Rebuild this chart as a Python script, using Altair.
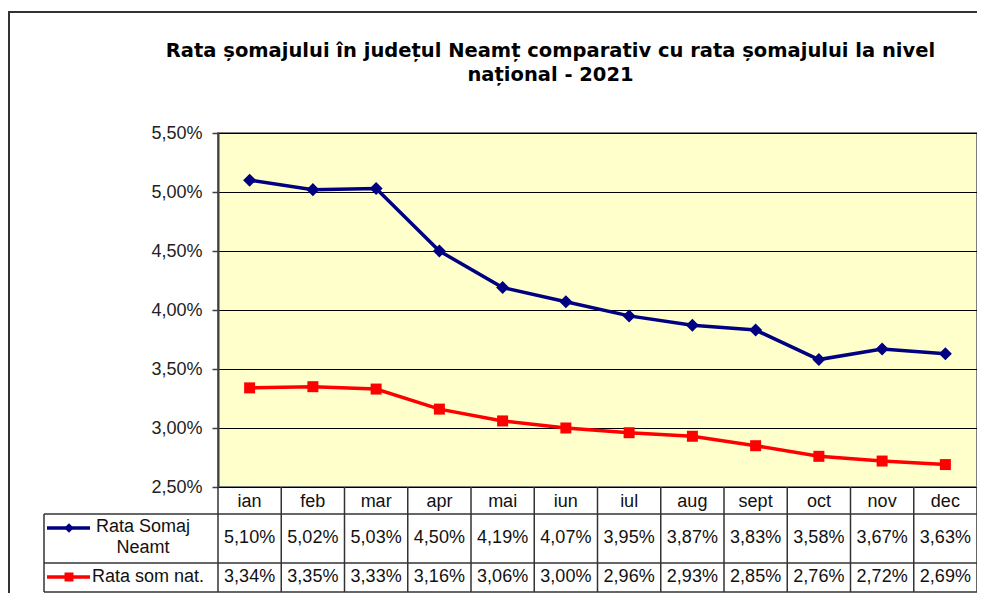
import altair as alt
import pandas as pd

months = ["ian", "feb", "mar", "apr", "mai", "iun", "iul", "aug", "sept", "oct", "nov", "dec"]
neamt = [5.10, 5.02, 5.03, 4.50, 4.19, 4.07, 3.95, 3.87, 3.83, 3.58, 3.67, 3.63]
national = [3.34, 3.35, 3.33, 3.16, 3.06, 3.00, 2.96, 2.93, 2.85, 2.76, 2.72, 2.69]
series_names = ["Rata Somaj Neamt", "Rata som nat."]
legend_labels = ["Rata Somaj\nNeamt", "Rata som nat."]
series_colors = ["#000080", "#FF0000"]
y_ticks = [2.5, 3.0, 3.5, 4.0, 4.5, 5.0, 5.5]
title_lines = ["Rata șomajului în județul Neamț comparativ cu rata șomajului la nivel",
               "național - 2021"]

FONT = "Liberation Sans"
W, H = 759, 354

rows = []
for i, (m, a, b) in enumerate(zip(months, neamt, national)):
    rows.append({"idx": i, "month": m, "series": series_names[0], "val": a})
    rows.append({"idx": i, "month": m, "series": series_names[1], "val": b})
df = pd.DataFrame(rows)
df["label"] = df["val"].map(lambda v: f"{v:.2f}".replace(".", ",") + "%")

df_months = pd.DataFrame({"idx": list(range(len(months))), "month": months})
df_bounds = pd.DataFrame({"b": [i - 0.5 for i in range(len(months) + 1)]})
one = pd.DataFrame({"a": [0]})

x_scale = alt.Scale(domain=[-0.5, len(months) - 0.5])
X = alt.X("idx:Q", scale=x_scale, axis=None)
Y = alt.Y("val:Q", scale=alt.Scale(domain=[y_ticks[0], y_ticks[-1]]),
          axis=alt.Axis(values=y_ticks, title=None,
                        labelExpr="replace(format(datum.value, '.2f'), '.', ',') + '%'"))

base = alt.Chart(df)

layers = []
# outer frame
layers.append(alt.Chart(one).mark_rect(fillOpacity=0, stroke="#333333", strokeWidth=2).encode(
    x=alt.value(-209), x2=alt.value(W + 40), y=alt.value(-121), y2=alt.value(H + 250)))

# series lines + markers
for name, col, shape, size in zip(series_names, series_colors, ["diamond", "square"], [170, 121]):
    sub = base.transform_filter(alt.datum.series == name)
    layers.append(sub.mark_line(color=col, strokeWidth=3.5).encode(x=X, y=Y))
    layers.append(sub.mark_point(color=col, filled=True, opacity=1, shape=shape, size=size).encode(x=X, y=Y))

# table: header month labels
layers.append(alt.Chart(df_months).mark_text(font=FONT, fontSize=18, color="#111111", baseline="middle").encode(
    x=alt.X("idx:Q", scale=x_scale, axis=None), y=alt.value(H + 15), text="month:N"))

# table: values
for name, yy in zip(series_names, [405, 444]):
    layers.append(base.transform_filter(alt.datum.series == name).mark_text(
        font=FONT, fontSize=18, color="#111111", baseline="middle").encode(
        x=X, y=alt.value(yy), text="label:N"))

# table: vertical lines
layers.append(alt.Chart(df_bounds).mark_rule(color="#333333", strokeWidth=1.5).encode(
    x=alt.X("b:Q", scale=x_scale, axis=None), y=alt.value(H), y2=alt.value(459)))
# table: horizontal lines and left edge
for yy in [381, 430, 459]:
    layers.append(alt.Chart(one).mark_rule(color="#333333", strokeWidth=1.5).encode(
        x=alt.value(-174), x2=alt.value(W), y=alt.value(yy)))
layers.append(alt.Chart(one).mark_rule(color="#333333", strokeWidth=1.5).encode(
    x=alt.value(-174), y=alt.value(381), y2=alt.value(459)))

# table: legend keys
for col, shape, msize, yy in zip(series_colors, ["diamond", "square"], [90, 81], [395, 444]):
    layers.append(alt.Chart(one).mark_rule(color=col, strokeWidth=3.5).encode(
        x=alt.value(-171), x2=alt.value(-128), y=alt.value(yy)))
    layers.append(alt.Chart(one).mark_point(color=col, filled=True, opacity=1, shape=shape, size=msize).encode(
        x=alt.value(-149), y=alt.value(yy)))
layers.append(alt.Chart(pd.DataFrame({"t": [legend_labels[0]]})).mark_text(
    font=FONT, fontSize=18, color="#111111", align="center", baseline="middle",
    lineBreak="\n", lineHeight=21).encode(x=alt.value(-75), y=alt.value(394), text="t:N"))
layers.append(alt.Chart(pd.DataFrame({"t": [legend_labels[1]]})).mark_text(
    font=FONT, fontSize=18, color="#111111", align="left", baseline="middle").encode(
    x=alt.value(-126), y=alt.value(444), text="t:N"))

chart = alt.layer(*layers).properties(
    width=W, height=H,
    padding={"left": 210, "top": 125, "right": 0, "bottom": 106},
    autosize=alt.AutoSizeParams(type="none"),
    background="white",
    title=alt.TitleParams(text=title_lines, font="DejaVu Sans", fontSize=19.5, fontWeight="bold",
                          color="#000000", anchor="middle", frame="group", dx=-47, offset=-74,
                          lineHeight=24),
).configure_view(
    fill="#FFFFCC", stroke="#7f7f7f", strokeWidth=2
).configure_axis(
    labelFont=FONT, labelFontSize=18, labelColor="#222222",
    domainColor="#404040", domainWidth=2, tickColor="#404040", tickSize=6, tickWidth=1.5,
    labelPadding=10, grid=True, gridColor="#000000", gridWidth=1
)

chart.save("out.html", embed_options={"renderer": "svg", "actions": False})
